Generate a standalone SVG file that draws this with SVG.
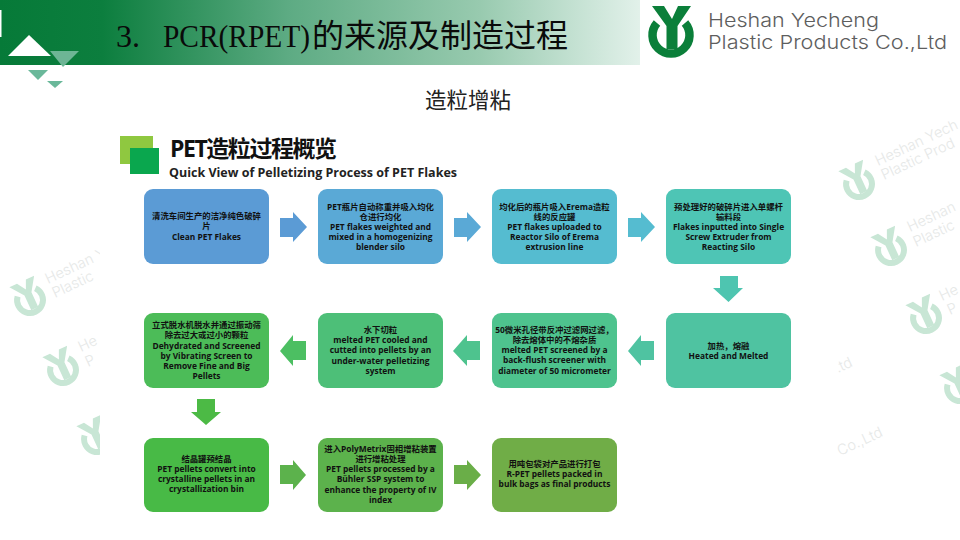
<svg xmlns="http://www.w3.org/2000/svg" width="960" height="540" viewBox="0 0 960 540">
<style>
text{font-family:"Open Sans","Noto Sans CJK SC",sans-serif}
.t{font-size:8.400px;font-weight:700;fill:#111;text-anchor:middle}
.wm{fill:#e6e8e7;font-family:"Inter",sans-serif;font-weight:300;font-size:14.500px}
.wl{color:#c8e6d5}
.box{stroke:none}
.brandt{font-family:"Inter",sans-serif;font-weight:300;font-size:19px;fill:#5e5e5e}
</style>
<defs>
<linearGradient id="hdr" x1="0" x2="1" y1="0" y2="0">
<stop offset="0" stop-color="#067a38"/><stop offset="0.16" stop-color="#0c7e3e"/><stop offset="0.45" stop-color="#5dab83"/><stop offset="0.75" stop-color="#98caaf"/><stop offset="1" stop-color="#e2f1ea"/>
</linearGradient>
<g id="logo">
<path d="M-14-12A18.5 18.5 0 1 0 14-12" fill="none" stroke="currentColor" stroke-width="8.500"/>
<path d="M-19-29H-7L1-16 7-29H20L6.500-9V14H-4.500V-9Z" fill="currentColor"/>
</g>
<clipPath id="cl"><rect x="0" y="120" width="100" height="420"/></clipPath>
<clipPath id="cr"><rect x="837" y="110" width="123" height="430"/></clipPath>
</defs>
<rect width="960" height="540" fill="#fff"/>
<g id="watermark-left" clip-path="url(#cl)">
<g class="wl"><use href="#logo" transform="translate(30 300) rotate(-25) scale(.7)"/><use href="#logo" transform="translate(63 370) rotate(-25) scale(.7)"/><use href="#logo" transform="translate(97 439) rotate(-25) scale(.7)"/></g>
<text class="wm" transform="translate(48 284) rotate(-25)">Heshan Y</text><text class="wm" transform="translate(55 298) rotate(-25)">Plastic</text>
<text class="wm" transform="translate(81 352) rotate(-25)">He</text><text class="wm" transform="translate(88 367) rotate(-25)">P</text>
</g>
<g id="watermark-right" clip-path="url(#cr)">
<g class="wl"><use href="#logo" transform="translate(859 184) rotate(-25) scale(.7)"/><use href="#logo" transform="translate(891 250) rotate(-25) scale(.7)"/><use href="#logo" transform="translate(926 318) rotate(-25) scale(.7)"/></g>
<use class="wl" href="#logo" transform="translate(960 388) rotate(-25) scale(.7)"/>
<text class="wm" transform="translate(878 166) rotate(-25)">Heshan Yech</text><text class="wm" transform="translate(884 180) rotate(-25)">Plastic Prod</text>
<text class="wm" transform="translate(910 232) rotate(-25)">Heshan</text><text class="wm" transform="translate(916 247) rotate(-25)">Plastic</text>
<text class="wm" transform="translate(942 301) rotate(-25)">He</text><text class="wm" transform="translate(950 315) rotate(-25)">P</text>
<text class="wm" transform="translate(838 373) rotate(-25)">.td</text>
<text class="wm" transform="translate(840 456) rotate(-25)">Co.,Ltd</text>
</g>
<g id="header">
<rect width="960" height="65" fill="#fff"/>
<rect width="640" height="65" fill="url(#hdr)"/>
<rect x="0" y="10" width="1.500" height="27" fill="#fff"/>
<polygon points="8,56 29,35 51,56" fill="#fff"/>
<polygon points="50,51 79,51 63,67" fill="#6db595"/>
<polygon points="28,70 48,70 38,80" fill="#6ab89a"/>
<polygon points="47,81 63,81 55,88" fill="#6ab89a"/>
<text x="116" y="47" font-size="32" style="font-family:'Liberation Serif',serif" fill="#0a0a0a">3.</text>
<text x="163" y="47" font-size="32" style="font-family:'Liberation Serif',serif" textLength="147" lengthAdjust="spacingAndGlyphs" fill="#0a0a0a">PCR(RPET)</text>
<text x="312" y="47" font-size="32" style="font-family:'Noto Sans CJK SC',sans-serif" fill="#0a0a0a">的来源及制造过程</text>
</g>
<g id="brand">
<use href="#logo" transform="translate(671 35)" color="#0b7f3a"/>
<text class="brandt" x="708" y="27" textLength="171" lengthAdjust="spacingAndGlyphs">Heshan Yecheng</text>
<text class="brandt" x="708" y="49" textLength="239" lengthAdjust="spacingAndGlyphs">Plastic Products Co.,Ltd</text>
</g>
<text id="subtitle" x="425" y="108" font-size="21.500" style="font-family:'Noto Sans CJK SC',sans-serif" fill="#222">造粒增粘</text>
<g id="heading">
<rect x="120" y="136" width="33" height="28" fill="#8fc840"/>
<rect x="130" y="148" width="29" height="26" fill="#0aa74e"/>
<text x="170" y="157" font-size="23" font-weight="700" textLength="167" fill="#111">PET造粒过程概览</text>
<text x="169" y="177" font-size="12.500" font-weight="700" textLength="288" fill="#222">Quick View of Pelletizing Process of PET Flakes</text>
</g>
<g id="connectors">
<polygon fill="#5b9bd5" points="280,218 293,218 293,212 307,227 293,242 293,237 280,237"/>
<polygon fill="#5aa9d6" points="454,218 467,218 467,212 481,227 467,242 467,237 454,237"/>
<polygon fill="#55bcd0" points="628,218 641,218 641,212 655,227 641,242 641,237 628,237"/>
<polygon fill="#4ec5b0" points="720,276 738,276 738,288 743,288 728.500,302 713,288 720,288"/>
<polygon fill="#4fc3a1" points="654,341 641,341 641,335 628,351 641,366 641,360 654,360"/>
<polygon fill="#4ec38e" points="480,341 467,341 467,335 453,351 467,366 467,360 480,360"/>
<polygon fill="#4cbf62" points="306,341 293,341 293,335 280,351 293,366 293,360 306,360"/>
<polygon fill="#4cba45" points="197,399 215,399 215,412 221,412 206,425 191,412 197,412"/>
<polygon fill="#5cb24c" points="280,465 293,465 293,460 306,475 293,490 293,484 280,484"/>
<polygon fill="#6aae48" points="454,465 467,465 467,460 481,475 467,490 467,484 454,484"/>
</g>
<g id="n1"><rect class="box" x="144" y="189" width="125" height="75" rx="9" fill="#5b9bd5"/><text class="t" x="206.500" y="219">清洗车间生产的洁净纯色破碎</text><text class="t" x="206.500" y="229">片</text><text class="t" x="206.500" y="240">Clean PET Flakes</text></g>
<g id="n2"><rect class="box" x="318" y="189" width="125" height="75" rx="9" fill="#5aa9d6"/><text class="t" x="380.500" y="210">PET瓶片自动称重并吸入均化</text><text class="t" x="380.500" y="220">仓进行均化</text><text class="t" x="380.500" y="230">PET flakes weighted and</text><text class="t" x="380.500" y="240">mixed in a homogenizing</text><text class="t" x="380.500" y="250">blender silo</text></g>
<g id="n3"><rect class="box" x="492" y="189" width="125" height="75" rx="9" fill="#55bcd0"/><text class="t" x="554.500" y="210">均化后的瓶片吸入Erema造粒</text><text class="t" x="554.500" y="220">线的反应罐</text><text class="t" x="554.500" y="230">PET flakes uploaded to</text><text class="t" x="554.500" y="240">Reactor Silo of Erema</text><text class="t" x="554.500" y="250">extrusion line</text></g>
<g id="n4"><rect class="box" x="666" y="189" width="125" height="75" rx="9" fill="#4ec5b5"/><text class="t" x="728.500" y="210">预处理好的破碎片进入单螺杆</text><text class="t" x="728.500" y="220">输料段</text><text class="t" x="728.500" y="230">Flakes inputted into Single</text><text class="t" x="728.500" y="240">Screw Extruder from</text><text class="t" x="728.500" y="250">Reacting Silo</text></g>
<g id="n5"><rect class="box" x="666" y="313" width="125" height="75" rx="9" fill="#4fc3a1"/><text class="t" x="728.500" y="349">加热，熔融</text><text class="t" x="728.500" y="359">Heated and Melted</text></g>
<g id="n6"><rect class="box" x="492" y="313" width="125" height="75" rx="9" fill="#4ec38e"/><text class="t" x="554.500" y="333">50微米孔径带反冲过滤网过滤，</text><text class="t" x="554.500" y="343">除去熔体中的不熔杂质</text><text class="t" x="554.500" y="353">melted PET screened by a</text><text class="t" x="554.500" y="363">back-flush screener with</text><text class="t" x="554.500" y="374">diameter of 50 micrometer</text></g>
<g id="n7"><rect class="box" x="318" y="313" width="125" height="75" rx="9" fill="#4dbf78"/><text class="t" x="380.500" y="333">水下切粒</text><text class="t" x="380.500" y="343">melted PET cooled and</text><text class="t" x="380.500" y="353">cutted into pellets by an</text><text class="t" x="380.500" y="364">under-water pelletizing</text><text class="t" x="380.500" y="374">system</text></g>
<g id="n8"><rect class="box" x="144" y="313" width="125" height="75" rx="9" fill="#4cbc58"/><text class="t" x="206.500" y="328">立式脱水机脱水并通过振动筛</text><text class="t" x="206.500" y="338">除去过大或过小的颗粒</text><text class="t" x="206.500" y="349">Dehydrated and Screened</text><text class="t" x="206.500" y="359">by Vibrating Screen to</text><text class="t" x="206.500" y="369">Remove Fine and Big</text><text class="t" x="206.500" y="379">Pellets</text></g>
<g id="n9"><rect class="box" x="144" y="438" width="125" height="74" rx="9" fill="#48ba46"/><text class="t" x="206.500" y="462">结晶罐预结晶</text><text class="t" x="206.500" y="472">PET pellets convert into</text><text class="t" x="206.500" y="482">crystalline pellets in an</text><text class="t" x="206.500" y="492">crystallization bin</text></g>
<g id="n10"><rect class="box" x="318" y="438" width="125" height="74" rx="9" fill="#5cb24c"/><text class="t" x="380.500" y="452">进入PolyMetrix固相增粘装置</text><text class="t" x="380.500" y="462">进行增粘处理</text><text class="t" x="380.500" y="472">PET pellets processed by a</text><text class="t" x="380.500" y="482">Bühler SSP system to</text><text class="t" x="380.500" y="493">enhance the property of IV</text><text class="t" x="380.500" y="503">index</text></g>
<g id="n11"><rect class="box" x="492" y="438" width="125" height="74" rx="9" fill="#70ad47"/><text class="t" x="554.500" y="467">用吨包袋对产品进行打包</text><text class="t" x="554.500" y="477">R-PET pellets packed in</text><text class="t" x="554.500" y="487">bulk bags as final products</text></g>
</svg>
